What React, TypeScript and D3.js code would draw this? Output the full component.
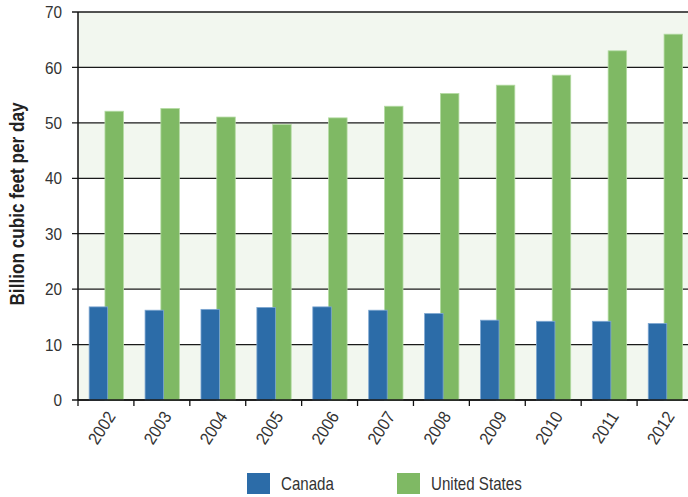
import React from "react";
import * as d3 from "d3";

const years = ["2002","2003","2004","2005","2006","2007","2008","2009","2010","2011","2012"];
const canada = [16.8,16.2,16.35,16.7,16.8,16.2,15.6,14.4,14.2,14.2,13.8];
const unitedStates = [52.1,52.6,51.05,49.7,50.9,53.0,55.3,56.8,58.6,63.0,66.0];
const yTicks = [0,10,20,30,40,50,60,70];
const seriesNames = ["Canada","United States"];
const seriesColors = ["#2c6ca8","#7fb964"];
const seriesStrokes = ["#7ea7d2","#b5dba4"];

const W = 688, H = 497;
const left = 78, right = 693, top = 12, bottom = 400;
const FONT = "'Liberation Sans', Arial, sans-serif";

export default function App() {
  const x = d3.scaleBand<string>().domain(years).range([left, right]).padding(0);
  const y = d3.scaleLinear().domain([0, 70]).range([bottom, top]);
  const bw = 18.5;
  const bands = yTicks.slice(0, -1).filter((_, i) => i % 2 === 0);
  return (
    <svg width={W} height={H} style={{ position: "absolute", left: 0, top: 0, fontFamily: FONT }}>
      <rect x={0} y={0} width={W} height={H} fill="#fff" />
      {bands.map((v) => (
        <rect key={"b" + v} x={left} y={y(v + 10)} width={right - left} height={y(v) - y(v + 10)} fill="#f2f7ef" />
      ))}
      {yTicks.map((v) => (
        <g key={"g" + v}>
          <line x1={left - 6} x2={right} y1={y(v)} y2={y(v)} stroke="#1a1a1a" strokeWidth={1.3} />
          <text transform={`translate(62,${y(v)}) scale(0.9,1)`} dy="0.36em" textAnchor="end" fontSize={17} fill="#333">{v}</text>
        </g>
      ))}
      {years.map((yr, i) => {
        const c = (x(yr) as number) + x.bandwidth() / 2;
        return (
          <g key={yr}>
            <rect x={c - 1} y={y(unitedStates[i])} width={bw} height={bottom - y(unitedStates[i])}
              fill={seriesColors[1]} stroke={seriesStrokes[1]} strokeWidth={0.8} />
            <rect x={c - 16.8} y={y(canada[i])} width={bw} height={bottom - y(canada[i])}
              fill={seriesColors[0]} stroke={seriesStrokes[0]} strokeWidth={0.8} />
          </g>
        );
      })}
      <line x1={left} x2={left} y1={top} y2={bottom} stroke="#111" strokeWidth={1.5} />
      <line x1={left} x2={right} y1={bottom} y2={bottom} stroke="#111" strokeWidth={1.5} />
      {years.map((yr) => (
        <line key={"t" + yr} x1={x(yr) as number} x2={x(yr) as number} y1={bottom} y2={bottom + 6} stroke="#111" strokeWidth={1.3} />
      ))}
      {years.map((yr) => {
        const c = (x(yr) as number) + x.bandwidth() / 2;
        return (
          <text key={"l" + yr} transform={`translate(${c + 5},${bottom + 13}) rotate(-57) scale(0.9,1)`} textAnchor="end" dy="0.36em" fontSize={17.5} fill="#333">{yr}</text>
        );
      })}
      <text transform={`translate(24,${204}) rotate(-90) scale(0.88,1)`} textAnchor="middle" fontSize={19.5} fontWeight="bold" fill="#222">Billion cubic feet per day</text>
      {seriesNames.map((n, i) => {
        const lx = i === 0 ? 247 : 397;
        return (
          <g key={n}>
            <rect x={lx} y={473} width={23} height={21} fill={seriesColors[i]} />
            <text transform={`translate(${lx + 34},${483.5}) scale(0.84,1)`} dy="0.36em" fontSize={18} fill="#333">{n}</text>
          </g>
        );
      })}
    </svg>
  );
}
